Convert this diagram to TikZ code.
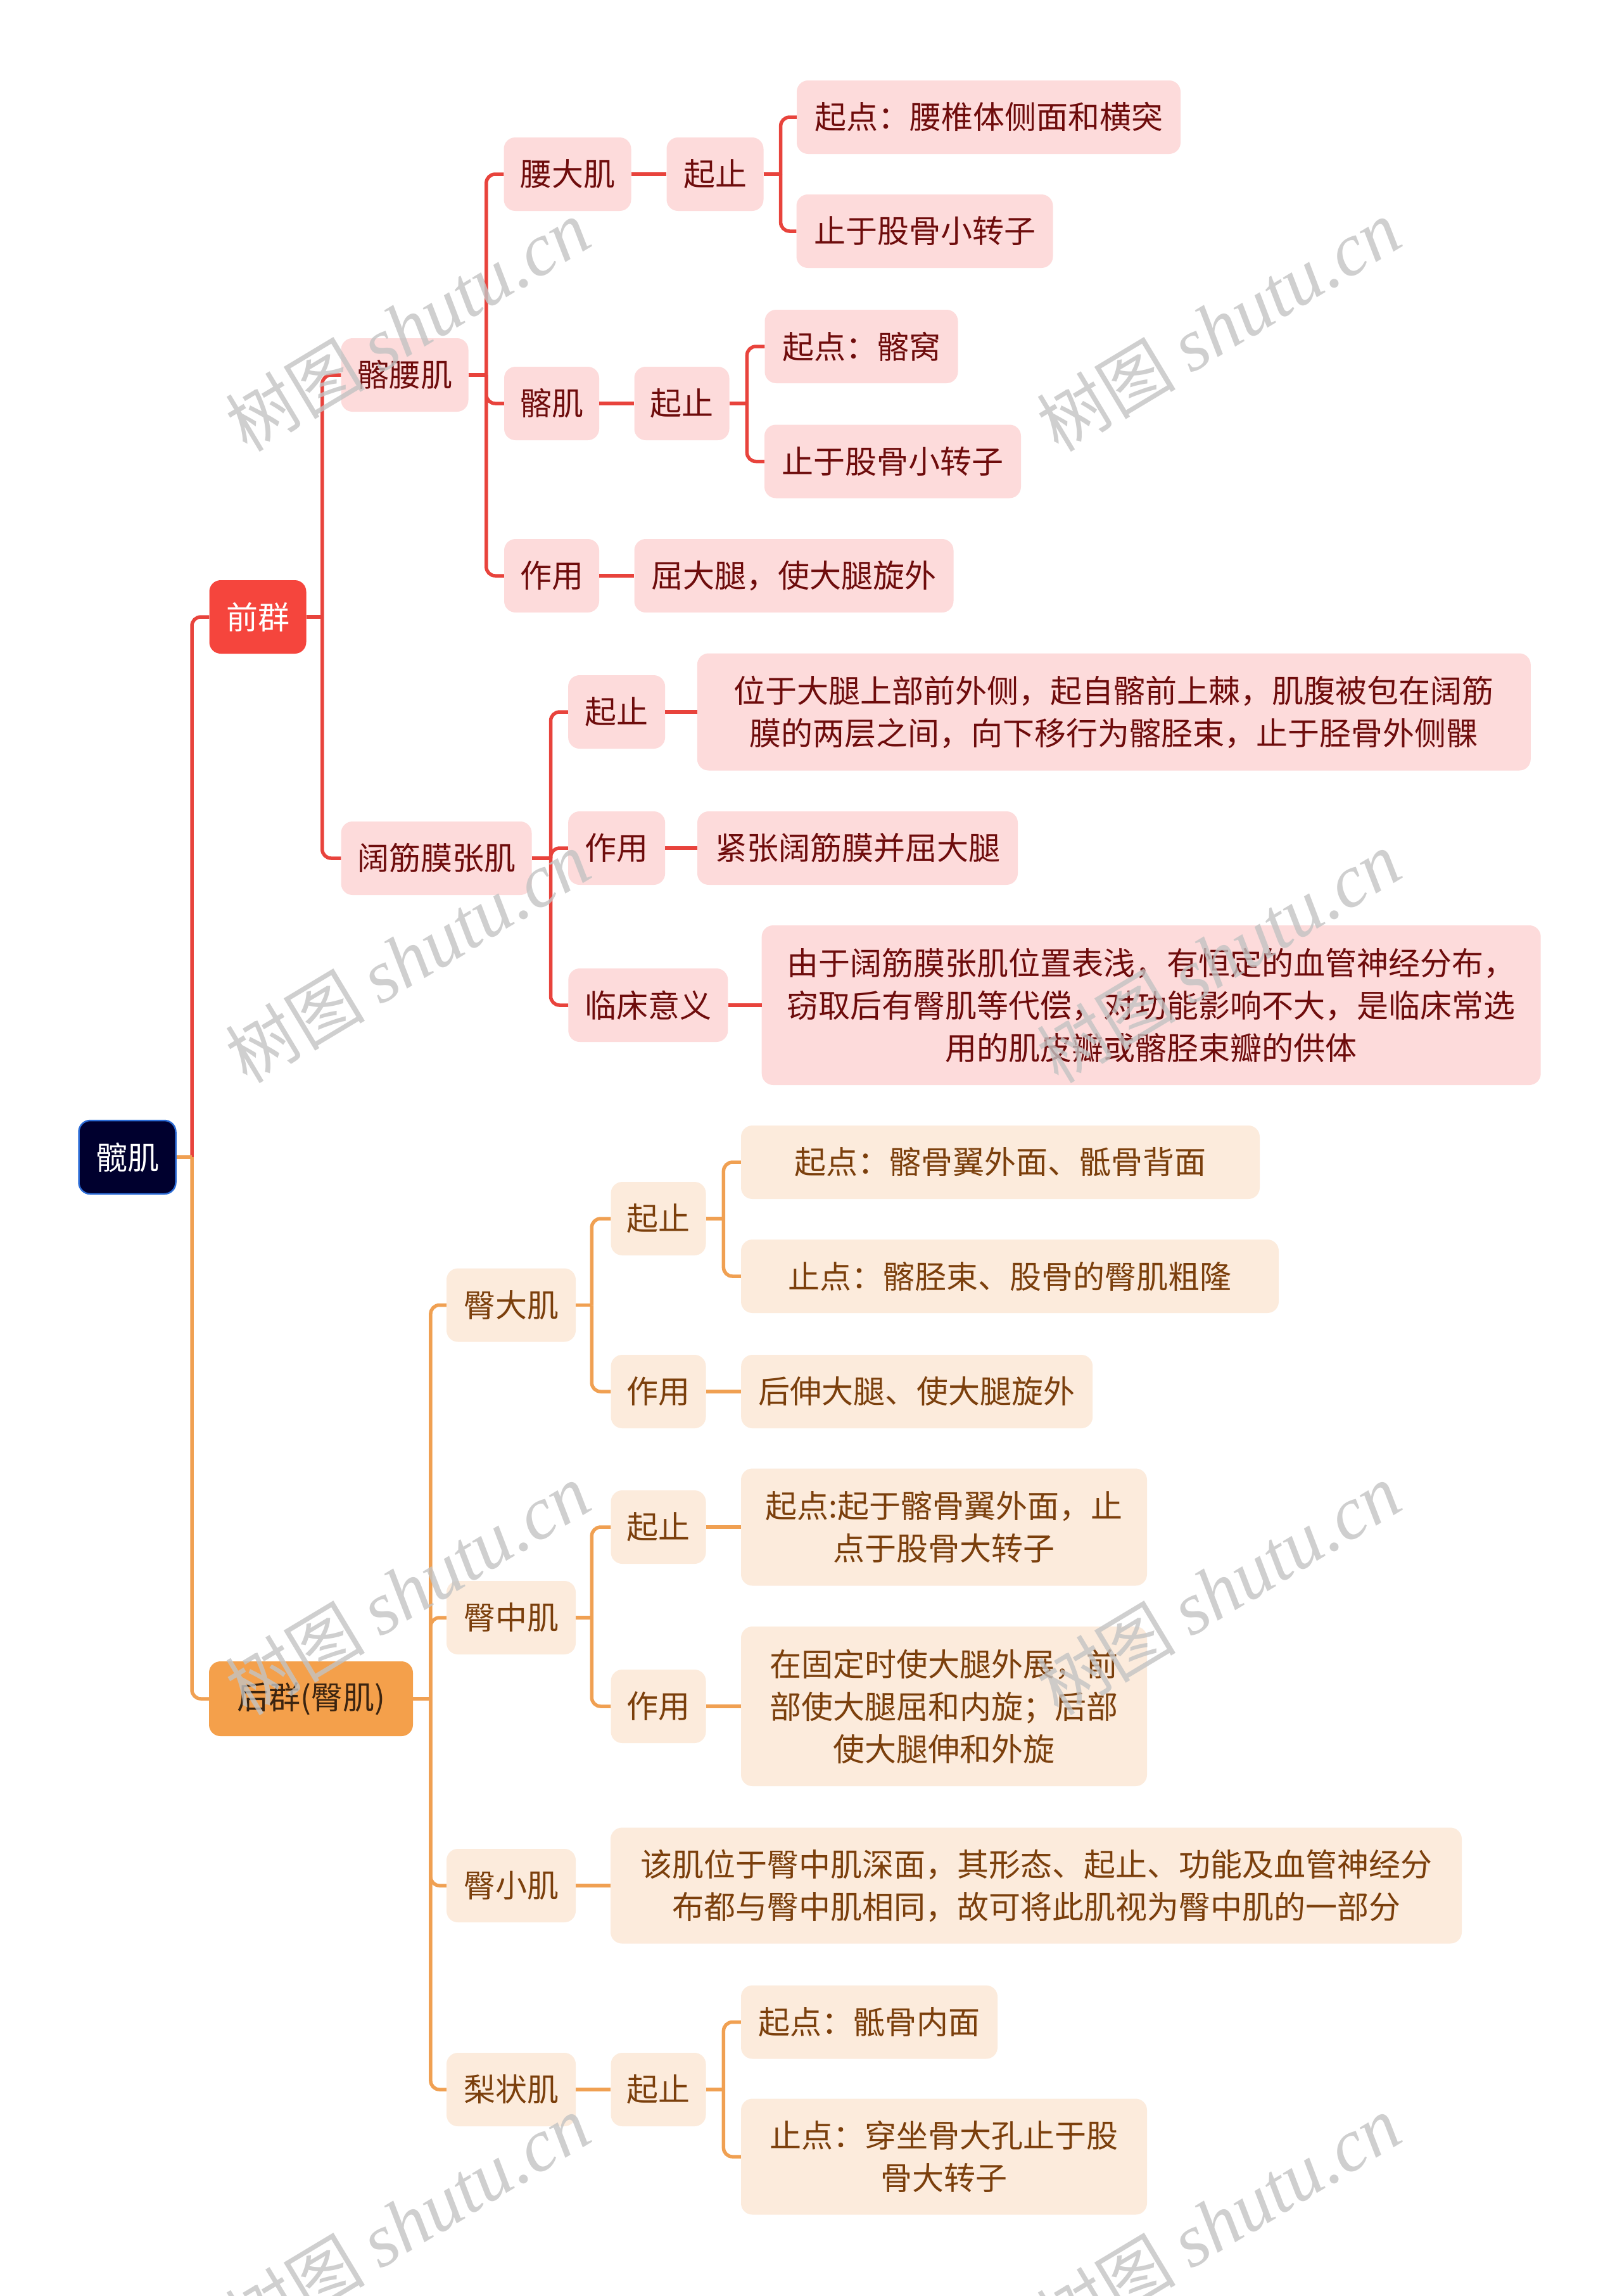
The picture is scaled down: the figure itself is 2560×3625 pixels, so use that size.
\documentclass[tikz,border=0pt]{standalone}
\usepackage{fontspec}
\setmainfont{Noto Sans CJK SC}
\newfontfamily\wmlatin{Liberation Serif}
\newfontfamily\wmcjk{Noto Sans CJK SC}
\definecolor{redline}{RGB}{232,67,60}
\definecolor{redfill}{RGB}{253,219,219}
\definecolor{redtext}{RGB}{110,12,12}
\definecolor{qianfill}{RGB}{245,69,61}
\definecolor{orline}{RGB}{240,160,82}
\definecolor{orfill}{RGB}{252,235,220}
\definecolor{ortext}{RGB}{123,63,12}
\definecolor{houfill}{RGB}{244,160,75}
\definecolor{houtext}{RGB}{59,36,16}
\definecolor{rootfill}{RGB}{0,0,46}
\definecolor{rootdraw}{RGB}{44,108,214}
\definecolor{wmgray}{RGB}{195,195,195}
\tikzset{
  basebox/.style={rounded corners=18pt, inner sep=0pt, align=center,
    minimum height=116pt, font=\fontsize{50}{67}\selectfont},
  rbox/.style={basebox, fill=redfill, text=redtext},
  obox/.style={basebox, fill=orfill, text=ortext},
  rootbox/.style={basebox, fill=rootfill, draw=rootdraw, line width=2.5pt, text=white},
  qianbox/.style={basebox, fill=qianfill, text=white},
  houbox/.style={basebox, fill=houfill, text=houtext},
  rline/.style={draw=redline, line width=5.5pt, rounded corners=14pt},
  oline/.style={draw=orline, line width=5.5pt, rounded corners=14pt},
  wmark/.style={text=wmgray, opacity=0.8, rotate=31, inner sep=0pt},
}
\newcommand{\wm}{{\wmcjk\fontsize{110}{115}\selectfont 树图}\hspace{24pt}{\wmlatin\itshape\fontsize{118}{120}\selectfont shutu.cn}}
\begin{document}
\begin{tikzpicture}[x=1pt,y=-1pt]
\fill[white] (0,0) rectangle (2560,3625);
\useasboundingbox (0,0) rectangle (2560,3625);

% ---------- nodes ----------
\node[rootbox, minimum width=153pt] (root) at (201,1827) {髋肌};
\node[qianbox, minimum width=153pt] (qian) at (407,974) {前群};
\node[houbox, minimum width=322pt, minimum height=118pt] (hou) at (491,2682) {后群(臀肌)};

\node[rbox, minimum width=201pt] (qyj) at (639,592) {髂腰肌};
\node[rbox, minimum width=301pt] (kjm) at (689,1355) {阔筋膜张肌};

\node[rbox, minimum width=201pt] (ydj) at (896,275) {腰大肌};
\node[rbox, minimum width=150pt] (qj) at (871,637) {髂肌};
\node[rbox, minimum width=150pt] (zy1) at (871,909) {作用};

\node[rbox, minimum width=153pt] (qz1) at (1129,275) {起止};
\node[rbox, minimum width=606pt] (a1) at (1561,185) {起点：腰椎体侧面和横突};
\node[rbox, minimum width=405pt] (a2) at (1460,365) {止于股骨小转子};

\node[rbox, minimum width=150pt] (qz2) at (1076.5,637) {起止};
\node[rbox, minimum width=305pt] (b1) at (1360,547) {起点：髂窝};
\node[rbox, minimum width=405pt] (b2) at (1409.5,728.5) {止于股骨小转子};

\node[rbox, minimum width=504pt] (c1) at (1253.5,909) {屈大腿，使大腿旋外};

\node[rbox, minimum width=153pt] (qz3) at (973.6,1124) {起止};
\node[rbox, minimum width=153pt] (zy3) at (973.6,1339) {作用};
\node[rbox, minimum width=252pt] (lc) at (1023.3,1587) {临床意义};

\node[rbox, minimum width=1316pt, minimum height=185pt] (d1) at (1758.8,1124)
  {位于大腿上部前外侧，起自髂前上棘，肌腹被包在阔筋\\膜的两层之间，向下移行为髂胫束，止于胫骨外侧髁};
\node[rbox, minimum width=506pt] (d2) at (1354,1339) {紧张阔筋膜并屈大腿};
\node[rbox, minimum width=1230pt, minimum height=252pt] (d3) at (1817.7,1587)
  {由于阔筋膜张肌位置表浅，有恒定的血管神经分布，\\窃取后有臀肌等代偿，对功能影响不大，是临床常选\\用的肌皮瓣或髂胫束瓣的供体};

\node[obox, minimum width=204pt] (tdj) at (807,2060.5) {臀大肌};
\node[obox, minimum width=204pt] (tzj) at (807,2554) {臀中肌};
\node[obox, minimum width=204pt] (txj) at (807,2977) {臀小肌};
\node[obox, minimum width=204pt] (lzj) at (807,3299) {梨状肌};

\node[obox, minimum width=150pt] (qz4) at (1039.5,1924) {起止};
\node[obox, minimum width=150pt] (zy4) at (1039.5,2197) {作用};
\node[obox, minimum width=819pt] (e1) at (1579.5,1835) {起点：髂骨翼外面、骶骨背面};
\node[obox, minimum width=849pt] (e2) at (1594.5,2015) {止点：髂胫束、股骨的臀肌粗隆};
\node[obox, minimum width=555pt] (e3) at (1447.7,2197) {后伸大腿、使大腿旋外};

\node[obox, minimum width=150pt] (qz5) at (1039.5,2411) {起止};
\node[obox, minimum width=150pt] (zy5) at (1039.5,2694) {作用};
\node[obox, minimum width=641pt, minimum height=185pt] (f1) at (1490.5,2411)
  {起点:起于髂骨翼外面，止\\点于股骨大转子};
\node[obox, minimum width=641pt, minimum height=252pt] (f2) at (1490.5,2694)
  {在固定时使大腿外展，前\\部使大腿屈和内旋；后部\\使大腿伸和外旋};

\node[obox, minimum width=1344pt, minimum height=183pt] (g1) at (1636,2977)
  {该肌位于臀中肌深面，其形态、起止、功能及血管神经分\\布都与臀中肌相同，故可将此肌视为臀中肌的一部分};

\node[obox, minimum width=150pt] (qz6) at (1039.5,3299) {起止};
\node[obox, minimum width=405pt] (h1) at (1372.5,3192.5) {起点：骶骨内面};
\node[obox, minimum width=641pt, minimum height=183pt] (h2) at (1490.5,3405)
  {止点：穿坐骨大孔止于股\\骨大转子};

% ---------- junctions ----------
\coordinate (jroot) at (303,1827);
\coordinate (jqian) at (508.8,974);
\coordinate (jqyj) at (767.8,592);
\coordinate (jqz1) at (1232.6,275);
\coordinate (jqz2) at (1179.4,637);
\coordinate (jkjm) at (869.5,1355);
\coordinate (jhou) at (679.9,2682);
\coordinate (jtdj) at (934.3,2060.5);
\coordinate (jqz4) at (1142.4,1924);
\coordinate (jtzj) at (934.3,2554);
\coordinate (jqz6) at (1142.4,3299);

% ---------- connectors ----------
\path[rline] (jroot) |- (qian.west);
\path[oline] (jroot) |- (hou.west);
\path[oline] (root.east) -- (jroot);

\path[rline] (qian.east) -- (jqian);
\path[rline] (jqian) |- (qyj.west);
\path[rline] (jqian) |- (kjm.west);

\path[rline] (qyj.east) -- (jqyj);
\path[rline] (jqyj) |- (ydj.west);
\path[rline] (jqyj) |- (qj.west);
\path[rline] (jqyj) |- (zy1.west);

\path[rline] (ydj.east) -- (qz1.west);
\path[rline] (qz1.east) -- (jqz1);
\path[rline] (jqz1) |- (a1.west);
\path[rline] (jqz1) |- (a2.west);

\path[rline] (qj.east) -- (qz2.west);
\path[rline] (qz2.east) -- (jqz2);
\path[rline] (jqz2) |- (b1.west);
\path[rline] (jqz2) |- (b2.west);

\path[rline] (zy1.east) -- (c1.west);

\path[rline] (kjm.east) -- (jkjm);
\path[rline] (jkjm) |- (qz3.west);
\path[rline] (jkjm) |- (zy3.west);
\path[rline] (jkjm) |- (lc.west);
\path[rline] (qz3.east) -- (d1.west);
\path[rline] (zy3.east) -- (d2.west);
\path[rline] (lc.east) -- (d3.west);

\path[oline] (hou.east) -- (jhou);
\path[oline] (jhou) |- (tdj.west);
\path[oline] (jhou) |- (tzj.west);
\path[oline] (jhou) |- (txj.west);
\path[oline] (jhou) |- (lzj.west);

\path[oline] (tdj.east) -- (jtdj);
\path[oline] (jtdj) |- (qz4.west);
\path[oline] (jtdj) |- (zy4.west);
\path[oline] (qz4.east) -- (jqz4);
\path[oline] (jqz4) |- (e1.west);
\path[oline] (jqz4) |- (e2.west);
\path[oline] (zy4.east) -- (e3.west);

\path[oline] (tzj.east) -- (jtzj);
\path[oline] (jtzj) |- (qz5.west);
\path[oline] (jtzj) |- (zy5.west);
\path[oline] (qz5.east) -- (f1.west);
\path[oline] (zy5.east) -- (f2.west);

\path[oline] (txj.east) -- (g1.west);

\path[oline] (lzj.east) -- (qz6.west);
\path[oline] (qz6.east) -- (jqz6);
\path[oline] (jqz6) |- (h1.west);
\path[oline] (jqz6) |- (h2.west);

% ---------- watermarks ----------
\node[wmark] (w1) at (644,515) {\wm};
\node[wmark] (w2) at (1924,515) {\wm};
\node[wmark] (w3) at (644,1512) {\wm};
\node[wmark] (w4) at (1924,1512) {\wm};
\node[wmark] (w5) at (644,2510) {\wm};
\node[wmark] (w6) at (1924,2510) {\wm};
\node[wmark] (w7) at (644,3508) {\wm};
\node[wmark] (w8) at (1924,3508) {\wm};
\end{tikzpicture}
\end{document}
